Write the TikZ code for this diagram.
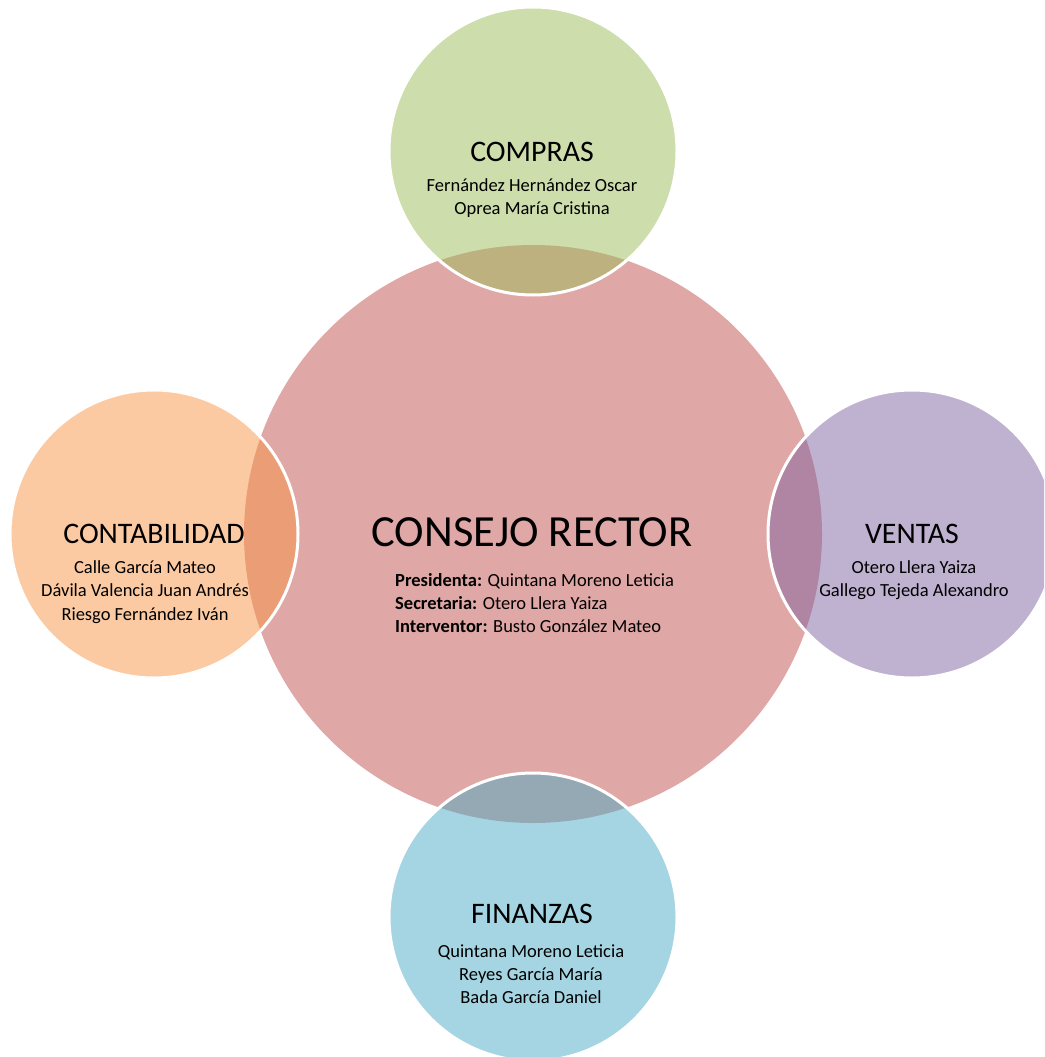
\documentclass[tikz,border=0pt]{standalone}
\usepackage{fontspec}
\setmainfont{Carlito}
\definecolor{consejored}{HTML}{C0504D}
\definecolor{comprasgreen}{HTML}{9BBB59}
\definecolor{contaorange}{HTML}{F79646}
\definecolor{ventaspurple}{HTML}{8064A2}
\definecolor{finanzasblue}{HTML}{4BACC6}
\begin{document}
\begin{tikzpicture}
[x=1pt,y=-1pt,
  bigcircle/.style={shape=circle,minimum size=578pt,inner sep=0pt,fill=consejored,fill opacity=0.5},%
  areacircle/.style={shape=circle,minimum size=288pt,inner sep=0pt,draw=white,line width=3pt,fill opacity=0.5},%
  titletext/.style={inner sep=0pt,font=\fontsize{29.8}{34}\selectfont},%
  nametext/.style={inner sep=0pt,align=center,font=\fontsize{18.5}{23.2}\selectfont}]
\useasboundingbox (0,0) rectangle (1044,1057);
\clip (0,0) rectangle (1044,1057);
%% circles
\node (consejo) at (533,534) [bigcircle] {};
\foreach \nodename/\x/\y/\col in {compras/533/151/comprasgreen,
  contabilidad/154/534/contaorange, ventas/912/534/ventaspurple,
  finanzas/533/917/finanzasblue}
{
  \node (\nodename) at (\x,\y) [areacircle,fill=\col] {};
}
%% titles
\node (consejotitle) at (532,532) [inner sep=0pt,font=\fontsize{44.5}{50}\selectfont] {CONSEJO RECTOR};
\foreach \nodename/\x/\y/\name in {compras/532/152/COMPRAS,
  contabilidad/154/534/CONTABILIDAD, ventas/912/534/VENTAS,
  finanzas/532/914/FINANZAS}
{
  \node (\nodename title) at (\x,\y) [titletext] {\name};
}
%% members
\node (consejonames) at (395,603) [nametext,anchor=west,align=left]
  {\textbf{Presidenta:} Quintana Moreno Leticia\\
   \textbf{Secretaria:} Otero Llera Yaiza\\
   \textbf{Interventor:} Busto González Mateo};
\node (comprasnames) at (532,198) [nametext]
  {Fernández Hernández Oscar\\Oprea María Cristina};
\node (contabilidadnames) at (145,592) [nametext]
  {Calle García Mateo\\Dávila Valencia Juan Andrés\\Riesgo Fernández Iván};
\node (ventasnames) at (914,580) [nametext]
  {Otero Llera Yaiza\\Gallego Tejeda Alexandro};
\node (finanzasnames) at (531,974) [nametext]
  {Quintana Moreno Leticia\\Reyes García María\\Bada García Daniel};
\end{tikzpicture}
\end{document}
